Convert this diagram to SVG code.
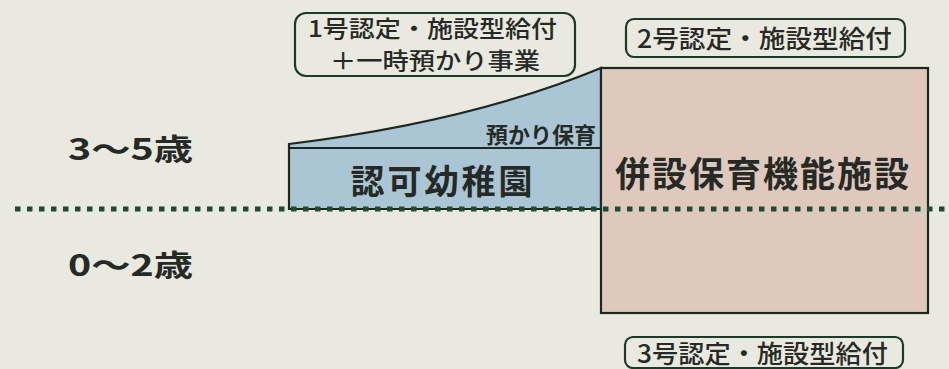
<svg xmlns="http://www.w3.org/2000/svg" width="949" height="369" viewBox="0 0 949 369">
<style>
  .t { font-family: "Noto Sans CJK JP", "Noto Sans", sans-serif; fill: #262a26; }
  .l { font-size: 25px; font-weight: 500; }
  .l1 { font-size: 23px; font-weight: 500; }
  .lbl { fill: none; stroke: #1d3a28; stroke-width: 2.2; }
  .shape { stroke: #1c2820; stroke-width: 2.2; }
</style>
<rect x="0" y="0" width="949" height="369" fill="#e9e9df"/>
<g id="age-3-5"><text class="t" x="68" y="160" font-size="30" font-weight="bold" textLength="125" lengthAdjust="spacingAndGlyphs">3〜5歳</text></g>
<g id="age-0-2"><text class="t" x="68" y="276" font-size="30" font-weight="bold" textLength="125" lengthAdjust="spacingAndGlyphs">0〜2歳</text></g>
<g id="kindergarten">
  <path class="shape" d="M289,209 L289,144 Q470,122 601,68 L601,209 Z" fill="#aac5d3"/>
  <line class="shape" x1="289" y1="148" x2="601" y2="148"/>
  <text class="t" x="596" y="143" font-size="22" font-weight="bold" text-anchor="end">預かり保育</text>
  <text class="t" x="443" y="194" font-size="34" font-weight="bold" text-anchor="middle" letter-spacing="3">認可幼稚園</text>
</g>
<g id="nursery">
  <rect class="shape" x="601" y="68" width="327" height="245" fill="#dfc9bc"/>
  <text class="t" x="763" y="187" font-size="35" font-weight="bold" text-anchor="middle" letter-spacing="2">併設保育機能施設</text>
</g>
<g id="connectors">
  <line x1="15" y1="209" x2="949" y2="209" stroke="#1d4a30" stroke-width="5" stroke-dasharray="5.5 6.5"/>
</g>
<g id="label-1">
  <rect class="lbl" x="295" y="13" width="280" height="63" rx="11"/>
  <text class="t l1" x="308" y="37" textLength="249" lengthAdjust="spacingAndGlyphs">1号認定・施設型給付</text>
  <text class="t l1" x="330" y="69" textLength="210" lengthAdjust="spacingAndGlyphs">＋一時預かり事業</text>
</g>
<g id="label-2">
  <rect class="lbl" x="626" y="19" width="279" height="38" rx="8"/>
  <text class="t l" x="637" y="48" textLength="255" lengthAdjust="spacingAndGlyphs">2号認定・施設型給付</text>
</g>
<g id="label-3">
  <rect class="lbl" x="625" y="337" width="278" height="31" rx="8"/>
  <text class="t l" x="637" y="363" textLength="251" lengthAdjust="spacingAndGlyphs">3号認定・施設型給付</text>
</g>
</svg>
